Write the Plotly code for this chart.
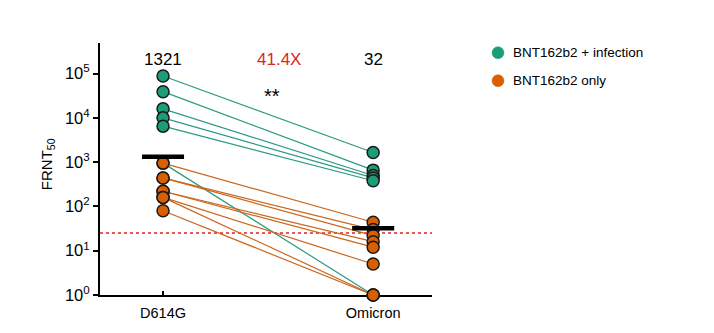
import plotly.graph_objects as go

# Neutralisation titres (FRNT50) per participant, paired D614G -> Omicron
variants = ["D614G", "Omicron"]
group_names = ["BNT162b2 + infection", "BNT162b2 only"]
infected_d614g = [88000, 39000, 16000, 10000, 6500, 950]
infected_omicron = [1650, 660, 500, 440, 380, 1]
vaccine_d614g = [950, 440, 440, 220, 220, 160, 160, 80]
vaccine_omicron = [44, 30, 22, 16, 12, 5, 1, 1]
geo_means = [1321, 32]
geo_mean_labels = ["1321", "32"]
fold_label = "41.4X"
signif_label = "**"
detection_limit = 25
ytick_vals = [1, 10, 100, 1000, 10000, 100000]
ytick_text = ["10<sup>0</sup>", "10<sup>1</sup>", "10<sup>2</sup>",
              "10<sup>3</sup>", "10<sup>4</sup>", "10<sup>5</sup>"]

GREEN = "#1b9e77"
ORANGE = "#d95f02"
GREEN_LINE = "#2a9a80"
ORANGE_LINE = "#cc661e"
RED = "#e4221a"
FONT = "Liberation Sans, Arial, sans-serif"
X_RANGE = [-0.3, 1.28]


def paired_lines(before, after):
    xs, ys = [], []
    for b, a in zip(before, after):
        xs += [0, 1, None]
        ys += [b, a, None]
    return xs, ys


fig = go.Figure()

# detection limit
fig.add_trace(go.Scatter(
    x=X_RANGE, y=[detection_limit, detection_limit], mode="lines",
    line=dict(color=RED, width=1.5, dash="dot"),
    showlegend=False, hoverinfo="skip", cliponaxis=False))

for before, after, color, lcolor in [(infected_d614g, infected_omicron, GREEN, GREEN_LINE),
                                     (vaccine_d614g, vaccine_omicron, ORANGE, ORANGE_LINE)]:
    lx, ly = paired_lines(before, after)
    fig.add_trace(go.Scatter(
        x=lx, y=ly, mode="lines", line=dict(color=lcolor, width=1.2),
        showlegend=False, hoverinfo="skip", cliponaxis=False))
    fig.add_trace(go.Scatter(
        x=[0] * len(before) + [1] * len(after), y=before + after,
        mode="markers",
        marker=dict(size=12, color=color, line=dict(color="#1a1a1a", width=1.5)),
        showlegend=False, cliponaxis=False))

# geometric mean bars
for i, gm in enumerate(geo_means):
    fig.add_trace(go.Scatter(
        x=[i - 0.1, i + 0.1], y=[gm, gm], mode="lines",
        line=dict(color="black", width=4.5),
        showlegend=False, hoverinfo="skip", cliponaxis=False))

annotations = []
for i, lab in enumerate(geo_mean_labels):
    annotations.append(dict(x=i, y=0.933, xref="x", yref="paper", text=lab,
                            xanchor="center", yanchor="middle", showarrow=False,
                            font=dict(size=17, color="black", family=FONT)))
annotations.append(dict(x=0.55, y=0.933, xref="x", yref="paper", text=fold_label,
                        xanchor="center", yanchor="middle", showarrow=False,
                        font=dict(size=17, color=RED, family=FONT)))
annotations.append(dict(x=0.52, y=0.79, xref="x", yref="paper", text=signif_label,
                        xanchor="center", yanchor="middle", showarrow=False,
                        font=dict(size=20, color="black", family=FONT)))
# y-axis title
annotations.append(dict(x=-0.156, y=0.52, xref="paper", yref="paper",
                        xanchor="center", yanchor="middle",
                        text="FRNT<sub>50</sub>", textangle=-90, showarrow=False,
                        font=dict(size=15, color="black", family=FONT)))

# legend entries
shapes = []
legend_rows = [(group_names[0], GREEN, 52.7), (group_names[1], ORANGE, 80.7)]
plot_top, plot_h, plot_left, plot_w = 43, 252, 100, 332
for name, color, ypix in legend_rows:
    py = (plot_top + plot_h - ypix) / plot_h
    px = (498 - plot_left) / plot_w
    shapes.append(dict(type="circle", xref="paper", yref="paper",
                       xsizemode="pixel", ysizemode="pixel",
                       xanchor=px, yanchor=py, x0=-6, x1=6, y0=-6, y1=6,
                       fillcolor=color, line=dict(color=color, width=0.5)))
    annotations.append(dict(x=(511 - plot_left) / plot_w, y=py, xref="paper", yref="paper",
                            xanchor="left", yanchor="middle", text=name, showarrow=False,
                            font=dict(size=13.5, color="black", family=FONT)))

fig.update_layout(
    width=714, height=333,
    margin=dict(l=100, r=282, t=43, b=38),
    plot_bgcolor="white", paper_bgcolor="white",
    showlegend=False,
    font=dict(family=FONT, color="black"),
    annotations=annotations, shapes=shapes,
    xaxis=dict(range=X_RANGE, tickvals=[0, 1], ticktext=variants,
               showline=True, linecolor="black", linewidth=2,
               ticks="inside", ticklen=4, tickwidth=1.5, tickcolor="black",
               showgrid=False, zeroline=False, layer="below traces",
               tickfont=dict(size=14.5, family=FONT, color="black"),
               ticklabelstandoff=4),
    yaxis=dict(type="log", range=[0, 5.69], tickvals=ytick_vals, ticktext=ytick_text,
               showline=True, linecolor="black", linewidth=2,
               ticks="outside", ticklen=5, tickwidth=1.5, tickcolor="black",
               showgrid=False, zeroline=False, layer="below traces",
               tickfont=dict(size=16.5, family=FONT, color="black")),
)

fig.write_html("out.html")
